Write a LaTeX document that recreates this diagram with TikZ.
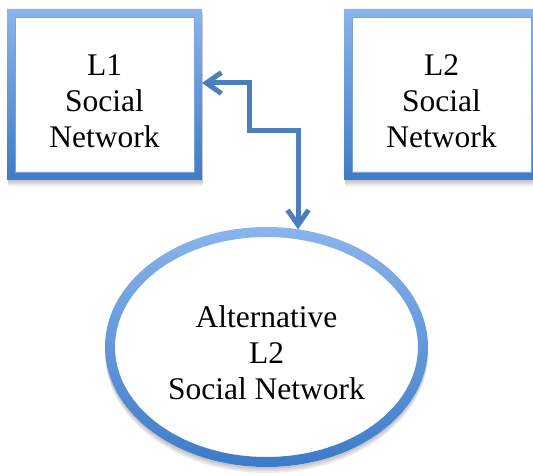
\documentclass[tikz,border=0pt]{standalone}
\usepackage{fontspec}
\setmainfont{Liberation Serif}
\usetikzlibrary{arrows.meta,shapes.geometric,backgrounds}

\definecolor{rimlight}{HTML}{8AB4EC}
\definecolor{rimdark}{HTML}{3D7BC8}
\definecolor{linkblue}{HTML}{4A7EBF}

\tikzset{
  nettext/.style={align=center,inner sep=0pt,outer sep=0pt,font=\fontsize{31.5}{36}\selectfont},
  netbox/.style={nettext,rectangle,minimum width=195pt,minimum height=171pt,text height=107pt},
  netoval/.style={nettext,ellipse,minimum width=323pt,minimum height=240pt,text height=105pt},
  rim/.style={top color=rimlight,bottom color=rimdark,even odd rule},
  softshadow/.style={fill=black,opacity=.08},
  link/.style={draw=linkblue,line width=5pt,
    {Straight Barb[length=15pt,width=21pt]}-{Straight Barb[length=15pt,width=21pt]}}
}

% shaded frame round a box node
\newcommand\boxrim[1]{%
  \foreach \s in {2,4,6}
    \fill[softshadow] ([xshift=1pt,yshift=-\s pt]#1.south west) rectangle ([xshift=1pt,yshift=-\s pt]#1.north east);
  \fill[white] (#1.south west) rectangle (#1.north east);
  \shade[rim] (#1.south west) rectangle (#1.north east)
    ([shift={(8pt,8pt)}]#1.south west) rectangle ([shift={(-8pt,-8pt)}]#1.north east);
  \draw[rimdark!70,line width=.8pt] ([shift={(8pt,8pt)}]#1.south west) rectangle ([shift={(-8pt,-8pt)}]#1.north east);
}

\begin{document}
\begin{tikzpicture}[x=1pt,y=-1pt]
  \useasboundingbox (0,0) rectangle (533,476);

  \node[netbox] (l1) at (104.5,94.5) {L1\\Social\\Network};
  \node[netbox] (l2) at (441.5,94.5) {L2\\Social\\Network};
  \node[netoval] (alt) at (266.5,347) {Alternative\\L2\\Social Network};

  \begin{scope}[on background layer]
    \fill[white] (0,0) rectangle (533,476);
    \boxrim{l1}
    \boxrim{l2}
    % ring
    \foreach \s in {2,4,6}
      \fill[softshadow] ([yshift=-\s pt]alt.center) ellipse [x radius=161.5pt,y radius=120pt];
    \fill[white] (alt.center) ellipse [x radius=161.5pt,y radius=120pt];
    \shade[rim] (alt.center) ellipse [x radius=161.5pt,y radius=120pt]
      (alt.center) ellipse [x radius=151.5pt,y radius=110pt];
  \end{scope}

  \coordinate (k1) at (249,83);
  \coordinate (k2) at (249,131);
  \draw[link] (alt.75) |- (k2) -- (k1) -- (k1 -| l1.east);
\end{tikzpicture}
\end{document}
